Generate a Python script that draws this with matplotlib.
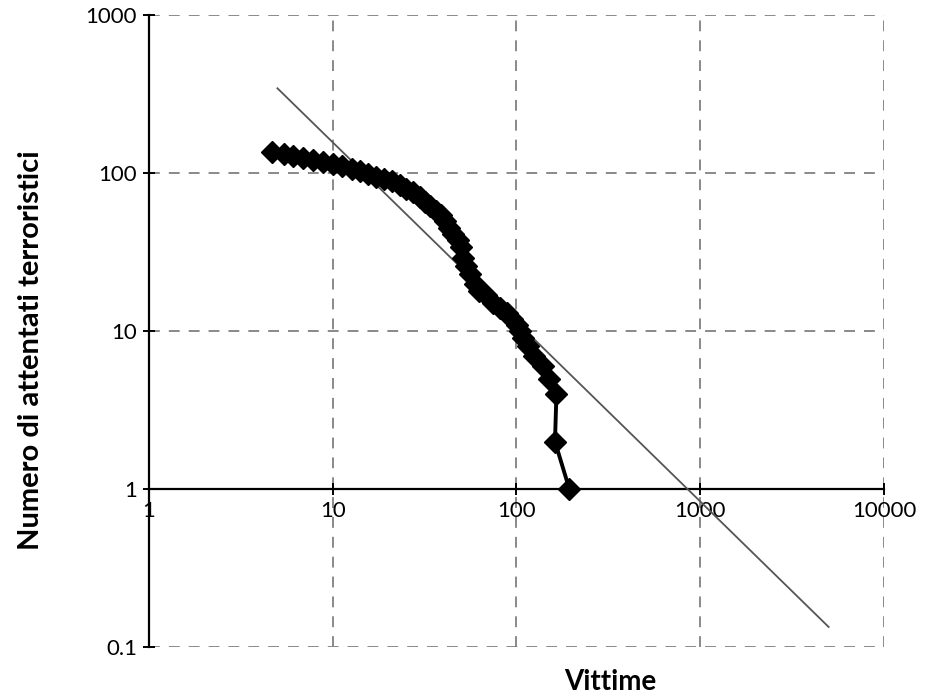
import matplotlib.pyplot as plt
from matplotlib.ticker import FixedLocator, NullLocator

######################### Data ############################
# victims (x) and number of attacks (y)
vittime = [4.7, 5.4, 6.1, 6.9, 7.8, 8.8, 10.0, 11.3, 12.7, 14.0, 15.5, 17.1,
           18.9, 20.9, 23.1, 25.2, 27.5, 29.7, 31.6, 33.7, 36.3, 38.6, 40.6,
           42.7, 44.9, 47.8, 50.2, 50.9, 52.8, 56.2, 59.8, 62.9, 67.9, 74.1,
           80.9, 88.3, 95.1, 101, 105, 109, 116, 125, 139, 151, 165, 162, 194]
attentati = [136, 132, 128, 125, 121, 117, 114, 111, 106, 103, 99, 94,
             92, 89, 84, 80, 76, 71, 66, 62, 58, 54, 50,
             45, 41, 38, 34, 29, 26, 23, 20, 18, 17, 15,
             14, 13, 12, 11, 10, 9, 8, 7, 6, 5, 4, 2, 1]

# power law fit, drawn between two end points
fit_x = [5, 5000]
fit_y = [345, 0.134]

x_ticks = [1, 10, 100, 1000, 10000]
x_labels = ["1", "10", "100", "1000", "10000"]
y_ticks = [0.1, 1, 10, 100, 1000]
y_labels = ["0.1", "1", "10", "100", "1000"]

######################### Plot ############################
plt.rcParams['font.family'] = ['Lato', 'DejaVu Sans']

fig = plt.figure(figsize=(9.43, 6.95), dpi=100)
ax = fig.add_axes([0.158, 0.069, 0.7794, 0.909])

ax.plot(fit_x, fit_y, color="#555555", lw=1.3, zorder=2)
ax.plot(vittime, attentati, color="black", lw=2.8, marker="D", ms=11,
        mfc="black", mec="black", zorder=3)

ax.set_xscale("log")
ax.set_yscale("log")
ax.set_xlim(1, 10000)
ax.set_ylim(0.1, 1000)

ax.xaxis.set_major_locator(FixedLocator(x_ticks))
ax.yaxis.set_major_locator(FixedLocator(y_ticks))
ax.xaxis.set_minor_locator(NullLocator())
ax.yaxis.set_minor_locator(NullLocator())
ax.set_xticklabels(x_labels)
ax.set_yticklabels(y_labels)

# Excel style: x axis crosses at y = 1, no box
ax.spines["top"].set_visible(False)
ax.spines["right"].set_visible(False)
ax.spines["bottom"].set_position(("data", 1))
ax.spines["bottom"].set_linewidth(1.6)
ax.spines["left"].set_linewidth(1.6)
ax.spines["bottom"].set_zorder(1)

ax.tick_params(direction="inout", length=9, width=1.4, labelsize=16,
               colors="black", pad=4)

ax.grid(True, color="#808080", lw=1.3, ls=(0, (6, 5)))
ax.set_axisbelow(True)

ax.set_xlabel("Vittime", fontsize=20, fontweight="bold")
ax.xaxis.set_label_coords(0.627, -0.035)
ax.set_ylabel("Numero di attentati terroristici", fontsize=21, fontweight="bold")
ax.yaxis.set_label_coords(-0.143, 0.47)

fig.savefig("out.png", dpi=100)
